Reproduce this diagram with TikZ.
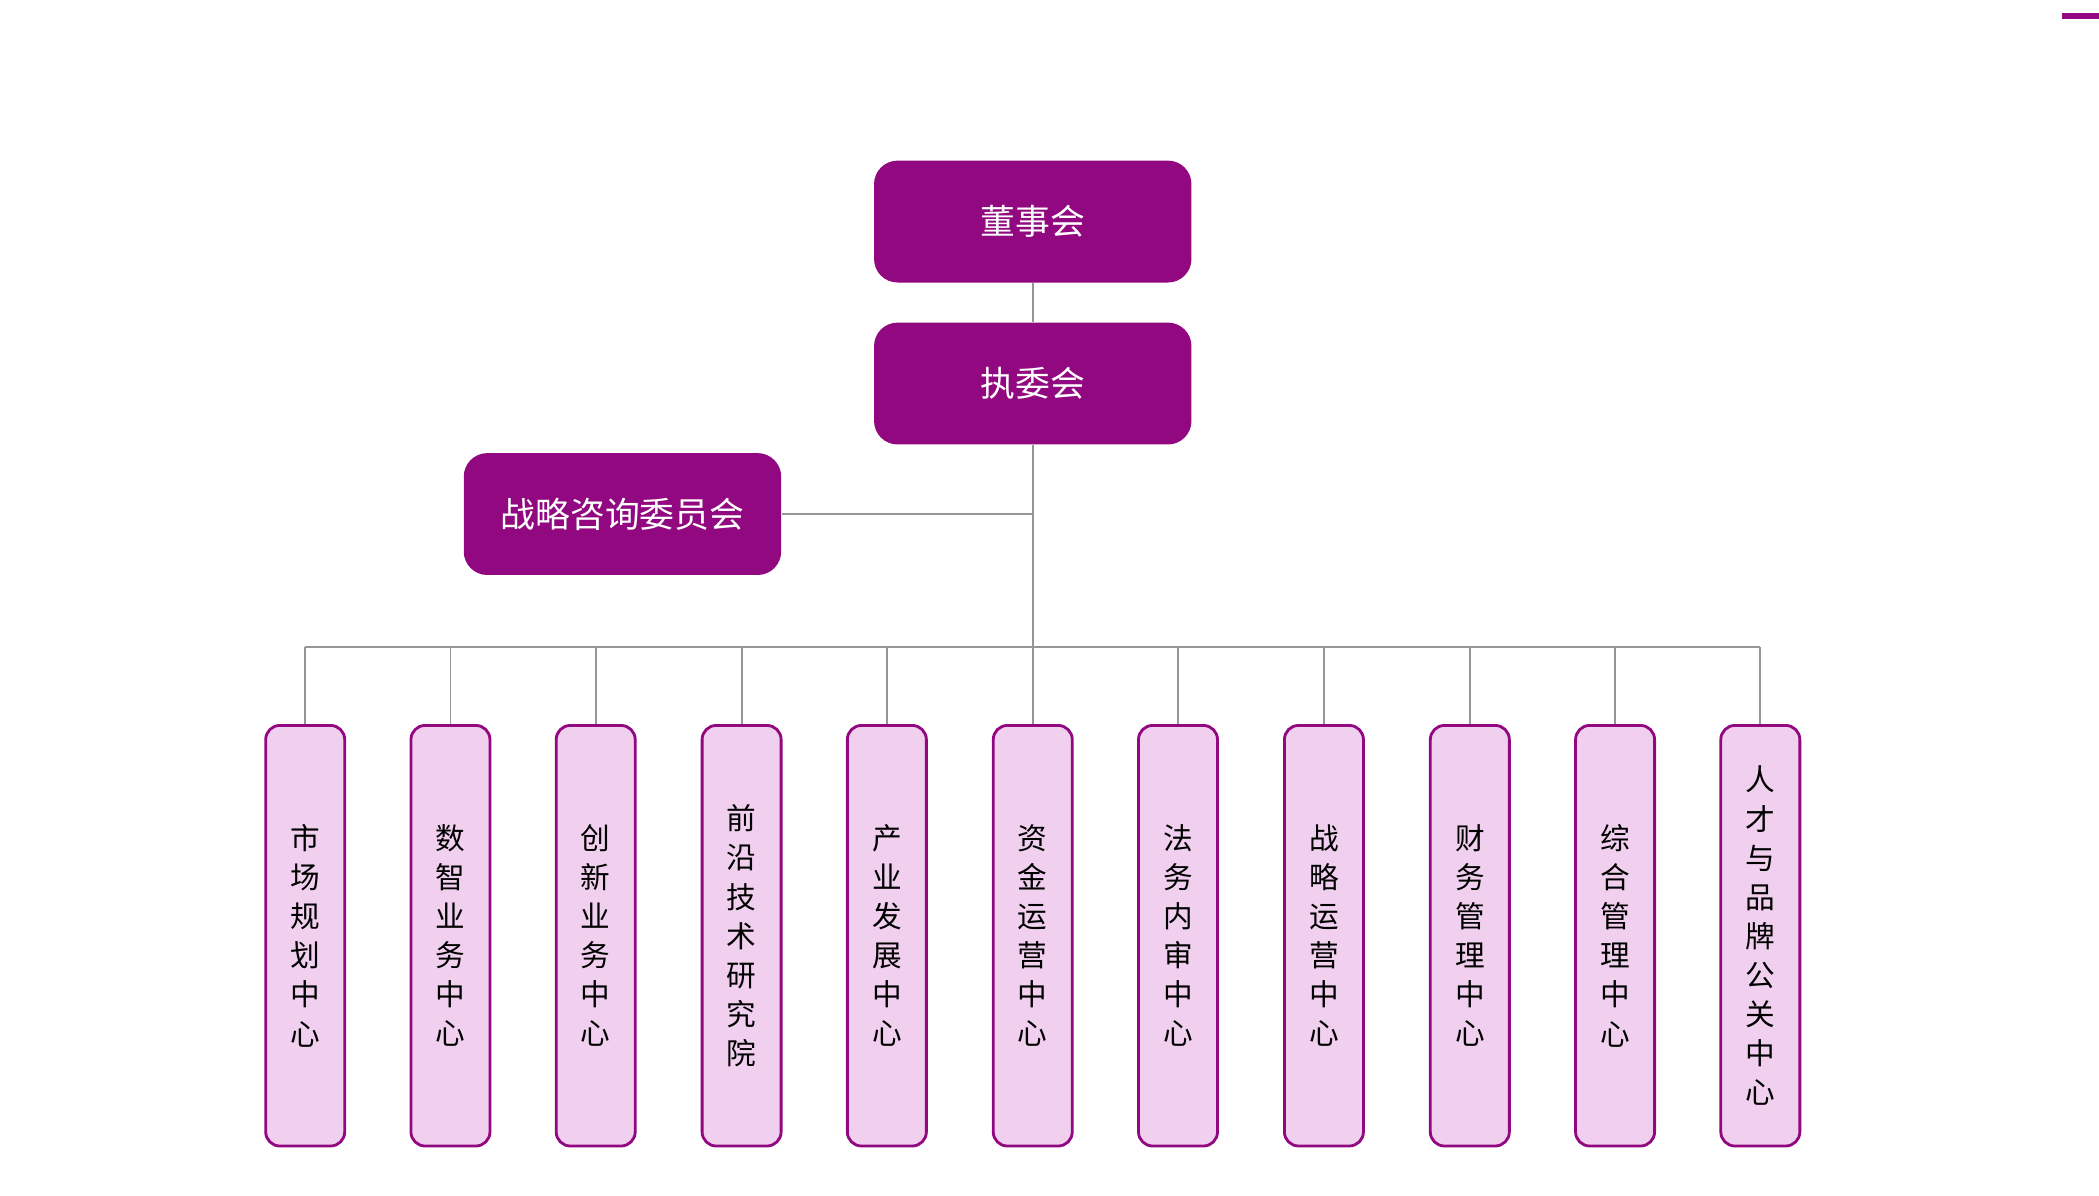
\documentclass[tikz,border=0pt]{standalone}
\usepackage{fontspec}
\newfontfamily\cjk{Noto Sans CJK SC}
\usetikzlibrary{positioning}
\definecolor{deeppurple}{RGB}{145,8,128}
\definecolor{lightpurple}{RGB}{240,208,238}
\definecolor{linegray}{RGB}{150,150,150}
\begin{document}
\begin{tikzpicture}[x=0.01cm, y=-0.01cm]
    \tikzstyle{board} = [rectangle, rounded corners=5pt, minimum width=2.37cm, minimum height=0.91cm, text centered, fill=deeppurple, text=white, font=\cjk\fontsize{7.4}{9}\selectfont]
    \tikzstyle{center} = [rectangle, rounded corners=3pt, minimum width=0.59cm, minimum height=3.14cm, align=center, draw=deeppurple, line width=0.6pt, fill=lightpurple, font=\cjk\fontsize{6.3}{8.3}\selectfont]
    \tikzstyle{link} = [draw=linegray, line width=0.4pt]
    \useasboundingbox (0,0) rectangle (1568,893);
    \fill [deeppurple] (1540,10) rectangle (1568,14);

    % Top levels
    \node [board] (board) at (771.5,165.5) {董事会};
    \node [board] (exec) at (771.5,286.5) {执委会};
    \node [board] (advisory) at (465,384) {战略咨询委员会};
    \coordinate (bus) at (771.5,483);
    \coordinate (adv) at (771.5,384);

    % Centers
    \foreach \i/\x/\t in {1/228/市\\场\\规\\划\\中\\心, 2/336.5/数\\智\\业\\务\\中\\心, 3/445/创\\新\\业\\务\\中\\心,
        4/554/前\\沿\\技\\术\\研\\究\\院, 5/662.5/产\\业\\发\\展\\中\\心, 6/771.5/资\\金\\运\\营\\中\\心,
        7/880/法\\务\\内\\审\\中\\心, 8/989/战\\略\\运\\营\\中\\心, 9/1098/财\\务\\管\\理\\中\\心,
        10/1206.5/综\\合\\管\\理\\中\\心, 11/1315/人\\才\\与\\品\\牌\\公\\关\\中\\心}
    {
        \node [center] (c\i) at (\x,699) {\t};
        \draw [link] (c\i.north) -- (c\i.north |- bus);
    }

    % Lines
    \draw [link] (board) -- (exec);
    \draw [link] (exec) -- (bus);
    \draw [link] (advisory) -- (adv);
    \draw [link] (c1.north |- bus) -- (c11.north |- bus);
\end{tikzpicture}
\end{document}
